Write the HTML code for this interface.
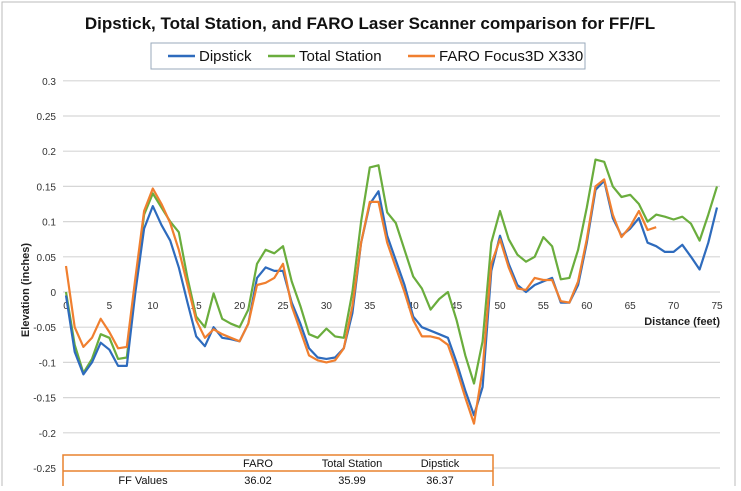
<!DOCTYPE html>
<html><head><meta charset="utf-8"><style>
body{margin:0;background:#fff;font-family:"Liberation Sans",sans-serif}
svg text{font-family:"Liberation Sans",sans-serif}
</style></head><body>
<svg width="741" height="486" viewBox="0 0 741 486">
<rect x="2" y="2" width="733" height="490" fill="#fff" stroke="#bbb"/>
<text x="370" y="29" text-anchor="middle" font-size="17" font-weight="bold" fill="#111">Dipstick, Total Station, and FARO Laser Scanner comparison for FF/FL</text>
<g id="legend">
<rect x="151" y="43" width="434" height="26" fill="#fff" stroke="#9ab"/>
<g><line x1="168" y1="56" x2="195" y2="56" stroke="#2e6bbd" stroke-width="2.5"/><text x="199" y="61" font-size="15" fill="#111">Dipstick</text></g>
<g><line x1="268" y1="56" x2="295" y2="56" stroke="#6aad3d" stroke-width="2.5"/><text x="299" y="61" font-size="15" fill="#111">Total Station</text></g>
<g><line x1="408" y1="56" x2="435" y2="56" stroke="#f07f2f" stroke-width="2.5"/><text x="439" y="61" font-size="15" fill="#111">FARO Focus3D X330</text></g>
</g>
<g id="grid"></g><g id="ticks"></g><g id="series"></g>
<text transform="translate(29,290) rotate(-90)" text-anchor="middle" font-size="11" font-weight="bold" fill="#222">Elevation (inches)</text>
<text x="720" y="325" text-anchor="end" font-size="11" font-weight="bold" fill="#222">Distance (feet)</text>
<g>
<rect x="63" y="455" width="430" height="40" fill="#fff" stroke="#e8822f" stroke-width="1.5"/>
<line x1="63" y1="471" x2="493" y2="471" stroke="#e8822f" stroke-width="1.5"/>
<text x="258" y="467" text-anchor="middle" font-size="11" fill="#111">FARO</text>
<text x="352" y="467" text-anchor="middle" font-size="11" fill="#111">Total Station</text>
<text x="440" y="467" text-anchor="middle" font-size="11" fill="#111">Dipstick</text>
<text x="143" y="484" text-anchor="middle" font-size="11" fill="#111">FF Values</text>
<text x="258" y="484" text-anchor="middle" font-size="11" fill="#111">36.02</text>
<text x="352" y="484" text-anchor="middle" font-size="11" fill="#111">35.99</text>
<text x="440" y="484" text-anchor="middle" font-size="11" fill="#111">36.37</text>
</g>
</svg>
<script>
const yTicks=[0.3,0.25,0.2,0.15,0.1,0.05,0,-0.05,-0.1,-0.15,-0.2,-0.25];
const yTickLabels=["0.3","0.25","0.2","0.15","0.1","0.05","0","-0.05","-0.1","-0.15","-0.2","-0.25"];
const xTicks=[0,5,10,15,20,25,30,35,40,45,50,55,60,65,70,75];
const dipstick=[-0.005,-0.085,-0.117,-0.1,-0.072,-0.082,-0.105,-0.105,0.0,0.09,0.122,0.095,0.073,0.035,-0.015,-0.063,-0.077,-0.05,-0.065,-0.067,-0.07,-0.045,0.02,0.035,0.03,0.03,-0.015,-0.045,-0.08,-0.093,-0.095,-0.093,-0.08,-0.03,0.07,0.125,0.143,0.08,0.045,0.01,-0.035,-0.05,-0.055,-0.06,-0.065,-0.1,-0.14,-0.175,-0.135,0.03,0.08,0.04,0.01,0.0,0.01,0.015,0.02,-0.015,-0.015,0.01,0.07,0.145,0.158,0.105,0.08,0.09,0.105,0.07,0.065,0.057,0.057,0.067,0.05,0.032,0.07,0.12];
const totalStation=[0.0,-0.075,-0.115,-0.095,-0.06,-0.065,-0.095,-0.093,0.01,0.11,0.14,0.12,0.1,0.085,0.02,-0.035,-0.05,-0.002,-0.038,-0.045,-0.05,-0.025,0.04,0.06,0.055,0.065,0.015,-0.02,-0.06,-0.065,-0.052,-0.063,-0.065,0.0,0.1,0.177,0.18,0.113,0.098,0.06,0.022,0.005,-0.025,-0.01,0.0,-0.04,-0.09,-0.13,-0.07,0.07,0.115,0.075,0.053,0.043,0.05,0.078,0.065,0.018,0.02,0.06,0.12,0.188,0.185,0.15,0.135,0.138,0.125,0.1,0.11,0.107,0.103,0.107,0.097,0.073,0.11,0.15];
const faro=[0.037,-0.05,-0.078,-0.065,-0.038,-0.057,-0.08,-0.078,0.02,0.115,0.147,0.125,0.098,0.06,0.01,-0.04,-0.065,-0.053,-0.06,-0.065,-0.07,-0.045,0.01,0.013,0.02,0.04,-0.02,-0.055,-0.09,-0.097,-0.1,-0.097,-0.08,-0.02,0.07,0.128,0.128,0.07,0.035,0.0,-0.04,-0.063,-0.063,-0.066,-0.075,-0.11,-0.15,-0.187,-0.11,0.04,0.075,0.035,0.005,0.003,0.02,0.017,0.017,-0.013,-0.015,0.015,0.075,0.15,0.16,0.11,0.078,0.093,0.115,0.088,0.092];
const NS="http://www.w3.org/2000/svg";
function X(v){return 66+v*(651/75);}
function Y(v){return 292-v*(35.2/0.05);}
const grid=document.getElementById('grid'),ticks=document.getElementById('ticks'),ser=document.getElementById('series');
yTicks.forEach((t,i)=>{
 const l=document.createElementNS(NS,'line');
 l.setAttribute('x1',63);l.setAttribute('x2',720);l.setAttribute('y1',Y(t));l.setAttribute('y2',Y(t));
 l.setAttribute('stroke','#d6d6d6');l.setAttribute('stroke-width','1.2');
 
 
 grid.appendChild(l);
 const tx=document.createElementNS(NS,'text');
 tx.setAttribute('x',56);tx.setAttribute('y',Y(t)+4);tx.setAttribute('text-anchor','end');tx.setAttribute('font-size','10');tx.setAttribute('fill','#333');
 tx.textContent=yTickLabels[i];
 
 
 ticks.appendChild(tx);
});
xTicks.forEach(t=>{
 const tx=document.createElementNS(NS,'text');
 tx.setAttribute('x',X(t));tx.setAttribute('y',309);tx.setAttribute('text-anchor','middle');tx.setAttribute('font-size','10');tx.setAttribute('fill','#333');
 tx.textContent=String(t);
 
 
 ticks.appendChild(tx);
});
function line(data,color,name){
 const p=document.createElementNS(NS,'polyline');
 p.setAttribute('points',data.map((v,i)=>X(i).toFixed(1)+','+Y(v).toFixed(1)).join(' '));
 p.setAttribute('fill','none');p.setAttribute('stroke',color);p.setAttribute('stroke-width','2.2');p.setAttribute('stroke-linejoin','round');
 
 
 ser.appendChild(p);
}
line(totalStation,'#6aad3d','total-station-line');
line(dipstick,'#2e6bbd','dipstick-line');
line(faro,'#f07f2f','faro-line');
</script>
</body></html>
